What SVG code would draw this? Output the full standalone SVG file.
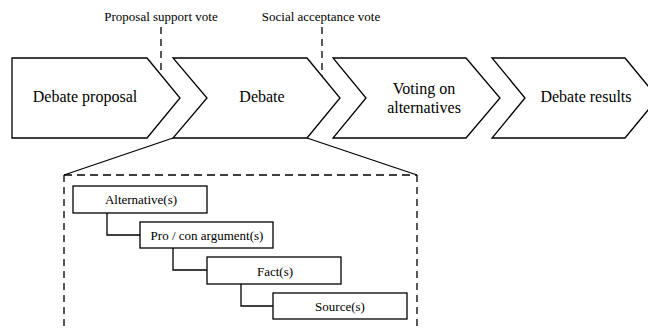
<svg xmlns="http://www.w3.org/2000/svg" width="648" height="329" viewBox="0 0 648 329">
<style>
.shape{fill:#fff;stroke:#000;stroke-width:1.3;stroke-linejoin:miter}
.line{fill:none;stroke:#000;stroke-width:1.3}
.dash{fill:none;stroke:#000;stroke-width:1.3;stroke-dasharray:7 5}
.big{font-size:16px}
.small{font-size:13px}
</style>
<rect width="648" height="329" fill="#fff"/>
<g font-family="'Liberation Serif', 'DejaVu Serif', serif" fill="#000" text-anchor="middle">
<g id="stage-debate-proposal">
<path class="shape" d="M12,58 L147,58 L180,98 L147,138 L12,138 Z"/>
<text class="big" x="85" y="102" fill="#000">Debate proposal</text>
</g>
<g id="stage-debate">
<path class="shape" d="M173,58 L307,58 L340,98 L307,138 L173,138 L207,98 Z"/>
<text class="big" x="262" y="102" fill="#000">Debate</text>
</g>
<g id="stage-voting">
<path class="shape" d="M333,58 L466,58 L500,98 L466,138 L333,138 L366,98 Z"/>
<text class="big" x="424" y="94" fill="#000">Voting on</text>
<text class="big" x="424" y="113" fill="#000">alternatives</text>
</g>
<g id="stage-results">
<path class="shape" d="M492,58 L625,58 L658,98 L625,138 L492,138 L525,98 Z"/>
<text class="big" x="586" y="102" fill="#000">Debate results</text>
</g>
<g id="label-proposal-vote">
<text class="small" x="161" y="21" fill="#000">Proposal support vote</text>
</g>
<g id="label-social-vote">
<text class="small" x="321" y="21" fill="#000">Social acceptance vote</text>
</g>
<g id="box-alternatives">
<rect class="shape" x="73" y="186" width="134" height="27"/>
<text class="small" x="141" y="204" fill="#000">Alternative(s)</text>
</g>
<g id="box-arguments">
<rect class="shape" x="140" y="222" width="133" height="26"/>
<text class="small" x="207" y="240" fill="#000">Pro / con argument(s)</text>
</g>
<g id="box-facts">
<rect class="shape" x="207" y="257" width="134" height="27"/>
<text class="small" x="275" y="275.5" fill="#000">Fact(s)</text>
</g>
<g id="box-sources">
<rect class="shape" x="273" y="293" width="134" height="26"/>
<text class="small" x="340" y="310.5" fill="#000">Source(s)</text>
</g>
</g>
<g id="connectors">
<path class="dash" d="M161,27 L161,75"/>
<path class="dash" d="M322,27 L322,76"/>
<path class="line" d="M173,138 L64,175"/>
<path class="line" d="M307,138 L417,175"/>
<path class="dash" d="M64,175 L417,175" style="stroke-dasharray:8 5"/>
<path class="dash" d="M64,175 L64,329"/>
<path class="dash" d="M417,175 L417,329"/>
<path class="line" d="M107,213 L107,235 L140,235"/>
<path class="line" d="M173,248 L173,270 L207,270"/>
<path class="line" d="M241,284 L241,306 L273,306"/>
</g>
</svg>
